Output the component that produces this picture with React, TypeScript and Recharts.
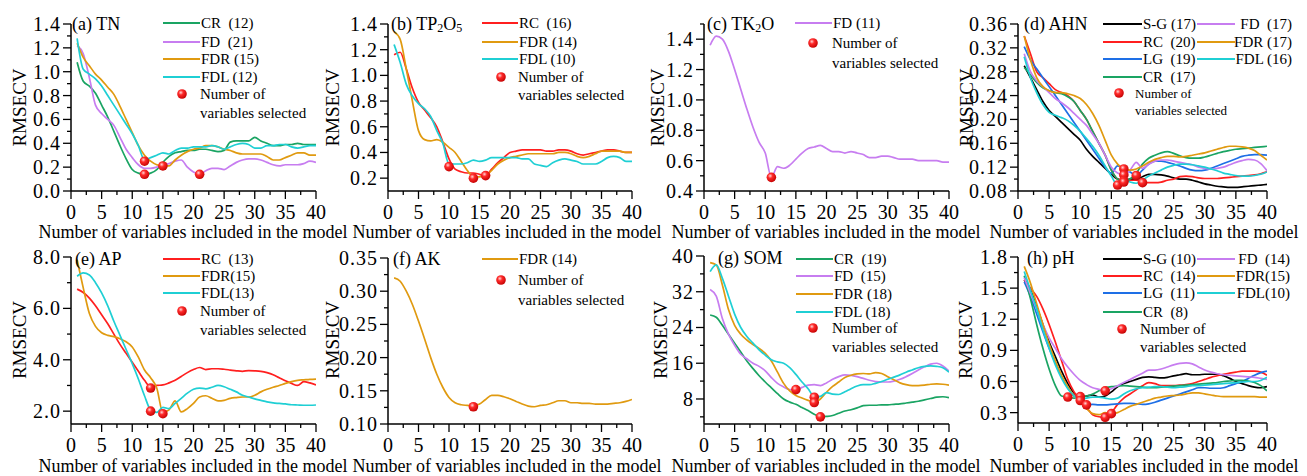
import React from "react";
import { ComposedChart, Line, Scatter, XAxis, YAxis } from "recharts";

const FONT = "Liberation Serif, Times New Roman, DejaVu Serif, serif";

const numVars = [1, 2, 3, 4, 5, 6, 7, 8, 9, 10, 11, 12, 13, 14, 15, 16, 17, 18, 19, 20, 21, 22, 23, 24, 25, 26, 27, 28, 29, 30, 31, 32, 33, 34, 35, 36, 37, 38, 39, 40];
const xTicks = [0, 2.5, 5, 7.5, 10, 12.5, 15, 17.5, 20, 22.5, 25, 27.5, 30, 32.5, 35, 37.5, 40];
const xLabels = [0, 5, 10, 15, 20, 25, 30, 35, 40];

// (a) TN
const tnCR = [1.08, 0.92, 0.88, 0.82, 0.72, 0.62, 0.5, 0.38, 0.27, 0.18, 0.15, 0.14, 0.15, 0.18, 0.24, 0.29, 0.32, 0.33, 0.34, 0.34, 0.35, 0.35, 0.34, 0.33, 0.34, 0.41, 0.42, 0.42, 0.42, 0.45, 0.42, 0.4, 0.38, 0.38, 0.39, 0.39, 0.4, 0.39, 0.39, 0.39];
const tnFD = [1.22, 1.15, 0.95, 0.72, 0.65, 0.6, 0.55, 0.45, 0.35, 0.28, 0.22, 0.19, 0.19, 0.2, 0.22, 0.23, 0.25, 0.26, 0.2, 0.16, 0.14, 0.17, 0.19, 0.19, 0.18, 0.21, 0.24, 0.26, 0.27, 0.27, 0.26, 0.24, 0.22, 0.21, 0.22, 0.22, 0.22, 0.23, 0.25, 0.24];
const tnFDR = [1.24, 1.12, 1.05, 0.98, 0.93, 0.87, 0.81, 0.71, 0.6, 0.49, 0.38, 0.3, 0.25, 0.22, 0.21, 0.21, 0.26, 0.3, 0.33, 0.35, 0.36, 0.38, 0.38, 0.37, 0.35, 0.34, 0.32, 0.31, 0.31, 0.31, 0.31, 0.29, 0.26, 0.26, 0.28, 0.3, 0.32, 0.32, 0.3, 0.3];
const tnFDL = [1.28, 1.02, 0.98, 0.94, 0.88, 0.8, 0.72, 0.64, 0.56, 0.48, 0.38, 0.26, 0.28, 0.3, 0.32, 0.31, 0.34, 0.36, 0.36, 0.37, 0.37, 0.37, 0.38, 0.37, 0.35, 0.37, 0.39, 0.4, 0.39, 0.36, 0.36, 0.38, 0.38, 0.39, 0.39, 0.37, 0.36, 0.37, 0.38, 0.38];
const tnMarkX = [12, 12, 15, 21];
const tnMarkY = [0.14, 0.25, 0.21, 0.14];
const tnLabels = ["CR  (12)", "FD  (21)", "FDR (15)", "FDL (12)"];

// (b) TP2O5
const tpRC = [1.16, 1.18, 1.05, 0.9, 0.79, 0.73, 0.67, 0.6, 0.48, 0.35, 0.27, 0.25, 0.24, 0.24, 0.23, 0.22, 0.27, 0.32, 0.36, 0.4, 0.41, 0.42, 0.42, 0.42, 0.42, 0.41, 0.41, 0.42, 0.42, 0.41, 0.39, 0.38, 0.39, 0.4, 0.41, 0.42, 0.42, 0.41, 0.4, 0.4];
const tpFDR = [1.34, 1.28, 1.05, 0.8, 0.57, 0.5, 0.49, 0.5, 0.48, 0.44, 0.4, 0.33, 0.26, 0.21, 0.21, 0.22, 0.26, 0.31, 0.34, 0.36, 0.37, 0.38, 0.39, 0.39, 0.39, 0.39, 0.39, 0.4, 0.4, 0.39, 0.37, 0.36, 0.37, 0.39, 0.41, 0.41, 0.41, 0.41, 0.4, 0.4];
const tpFDL = [1.24, 1.1, 0.93, 0.84, 0.78, 0.74, 0.68, 0.57, 0.47, 0.31, 0.31, 0.31, 0.32, 0.34, 0.33, 0.34, 0.36, 0.36, 0.36, 0.36, 0.36, 0.35, 0.35, 0.31, 0.3, 0.29, 0.32, 0.34, 0.35, 0.34, 0.33, 0.31, 0.31, 0.31, 0.33, 0.36, 0.37, 0.36, 0.33, 0.33];
const tpMarkX = [10, 14, 16];
const tpMarkY = [0.29, 0.2, 0.22];
const tpLabels = ["RC  (16)", "FDR (14)", "FDL (10)"];

// (c) TK2O
const tkFD = [1.36, 1.42, 1.4, 1.32, 1.2, 1.07, 0.94, 0.82, 0.72, 0.65, 0.49, 0.56, 0.55, 0.57, 0.61, 0.65, 0.68, 0.69, 0.7, 0.68, 0.66, 0.66, 0.65, 0.66, 0.65, 0.64, 0.62, 0.62, 0.63, 0.63, 0.62, 0.61, 0.61, 0.61, 0.6, 0.6, 0.6, 0.6, 0.59, 0.59];
const tkMarkX = [11];
const tkMarkY = [0.49];
const tkLabels = ["FD (11)"];

// (d) AHN
const ahnSG = [0.29, 0.27, 0.25, 0.23, 0.215, 0.205, 0.195, 0.185, 0.175, 0.165, 0.15, 0.138, 0.128, 0.118, 0.108, 0.1, 0.098, 0.1, 0.1, 0.104, 0.108, 0.108, 0.107, 0.105, 0.102, 0.1, 0.1, 0.098, 0.095, 0.092, 0.09, 0.088, 0.087, 0.086, 0.086, 0.087, 0.088, 0.089, 0.09, 0.091];
const ahnRC = [0.34, 0.31, 0.28, 0.27, 0.26, 0.25, 0.245, 0.24, 0.23, 0.215, 0.2, 0.18, 0.16, 0.14, 0.115, 0.1, 0.097, 0.098, 0.098, 0.094, 0.094, 0.094, 0.095, 0.098, 0.1, 0.104, 0.105, 0.104, 0.102, 0.101, 0.101, 0.101, 0.102, 0.103, 0.104, 0.105, 0.106, 0.107, 0.109, 0.112];
const ahnLG = [0.322, 0.3, 0.285, 0.27, 0.255, 0.24, 0.225, 0.21, 0.195, 0.18, 0.165, 0.15, 0.135, 0.12, 0.11, 0.122, 0.118, 0.112, 0.106, 0.115, 0.125, 0.13, 0.13, 0.128, 0.125, 0.122, 0.118, 0.115, 0.114, 0.115, 0.118, 0.122, 0.126, 0.13, 0.134, 0.138, 0.14, 0.141, 0.141, 0.14];
const ahnCR = [0.287, 0.275, 0.262, 0.253, 0.248, 0.245, 0.243, 0.238, 0.23, 0.215, 0.2, 0.18, 0.16, 0.14, 0.115, 0.1, 0.096, 0.1, 0.11, 0.125, 0.135, 0.14, 0.144, 0.146, 0.143, 0.139, 0.136, 0.135, 0.135, 0.137, 0.14, 0.143, 0.146, 0.148, 0.15, 0.151, 0.152, 0.153, 0.154, 0.155];
const ahnFD = [0.31, 0.28, 0.265, 0.255, 0.245, 0.235, 0.228, 0.22, 0.21, 0.2, 0.19, 0.175, 0.16, 0.14, 0.12, 0.11, 0.107, 0.115, 0.128, 0.118, 0.125, 0.13, 0.132, 0.132, 0.13, 0.128, 0.126, 0.124, 0.12, 0.118, 0.117, 0.118, 0.12, 0.124, 0.128, 0.131, 0.133, 0.132, 0.126, 0.114];
const ahnFDR = [0.34, 0.3, 0.27, 0.255, 0.248, 0.245, 0.245, 0.243, 0.24, 0.235, 0.225, 0.21, 0.19, 0.165, 0.14, 0.125, 0.117, 0.115, 0.117, 0.122, 0.128, 0.133, 0.136, 0.138, 0.138, 0.137, 0.138, 0.14, 0.142, 0.144, 0.147, 0.15, 0.153, 0.155, 0.155, 0.154, 0.152, 0.148, 0.14, 0.132];
const ahnFDL = [0.305, 0.27, 0.245, 0.225, 0.212, 0.207, 0.203, 0.198, 0.19, 0.18, 0.168, 0.155, 0.14, 0.122, 0.105, 0.09, 0.1, 0.095, 0.093, 0.098, 0.105, 0.11, 0.115, 0.12, 0.123, 0.125, 0.125, 0.124, 0.122, 0.12, 0.117, 0.114, 0.11, 0.108, 0.106, 0.105, 0.105, 0.106, 0.108, 0.112];
const ahnMarkX = [16, 17, 17, 17, 17, 19, 20];
const ahnMarkY = [0.09, 0.117, 0.107, 0.097, 0.095, 0.106, 0.094];
const ahnLabels1 = ["S-G (17)", "RC  (20)", "LG  (19)", "CR  (17)"];
const ahnLabels2 = ["FD  (17)", "FDR (17)", "FDL (16)"];

// (e) AP
const apRC = [6.75, 6.62, 6.4, 6.1, 5.75, 5.4, 5.0, 4.6, 4.25, 3.9, 3.55, 3.2, 2.95, 3.0, 3.02, 3.1, 3.2, 3.35, 3.5, 3.62, 3.7, 3.62, 3.65, 3.65, 3.63, 3.6, 3.57, 3.55, 3.58, 3.57, 3.55, 3.5, 3.42, 3.3, 3.18, 3.08, 3.0, 3.15, 3.1, 3.02];
const apFDR = [7.9, 6.8, 5.8, 5.3, 5.05, 4.95, 4.9, 4.82, 4.7, 4.5, 4.1, 3.6, 3.3, 2.9, 1.95, 2.05, 2.4, 1.97, 2.1, 2.3, 2.55, 2.6, 2.5, 2.4, 2.42, 2.5, 2.53, 2.55, 2.55, 2.62, 2.75, 2.85, 2.93, 3.0, 3.08, 3.15, 3.2, 3.22, 3.24, 3.25];
const apFDL = [7.25, 7.38, 7.3, 7.0, 6.6, 6.1, 5.5, 4.95, 4.4, 3.85, 3.25, 2.6, 2.05, 1.95, 2.15, 2.1, 2.3, 2.5, 2.7, 2.85, 2.9, 2.87, 2.93, 3.0, 2.95, 2.85, 2.75, 2.62, 2.55, 2.48, 2.42, 2.36, 2.32, 2.3, 2.28, 2.25, 2.24, 2.23, 2.23, 2.24];
const apMarkX = [13, 13, 15];
const apMarkY = [2.9, 2.0, 1.9];
const apLabels = ["RC  (13)", "FDR(15)", "FDL(13)"];

// (f) AK
const akFDR = [0.32, 0.315, 0.3, 0.28, 0.255, 0.228, 0.2, 0.175, 0.155, 0.14, 0.132, 0.129, 0.128, 0.127, 0.13, 0.137, 0.143, 0.143, 0.141, 0.138, 0.134, 0.13, 0.127, 0.126, 0.128, 0.129, 0.132, 0.135, 0.135, 0.132, 0.132, 0.131, 0.131, 0.13, 0.13, 0.13, 0.131, 0.132, 0.134, 0.137];
const akMarkX = [14];
const akMarkY = [0.126];
const akLabels = ["FDR (14)"];

// (g) SOM
const somCR = [26.8, 26.3, 24.5, 22.5, 20.5, 18.5, 16.5, 14.8, 13.2, 11.8, 10.5, 9.2, 8.0, 7.3, 6.8, 6.1, 5.4, 4.6, 4.0, 4.1, 4.3, 4.8, 5.3, 5.6, 6.0, 6.5, 6.6, 6.6, 6.7, 6.7, 6.8, 6.9, 7.1, 7.3, 7.5, 7.8, 8.1, 8.4, 8.5, 8.3];
const somFD = [32.5, 31, 26, 22.5, 20, 18, 17, 16, 15.3, 14.3, 12.8, 11.5, 10.7, 10.1, 10.0, 10.6, 11.1, 11.2, 11.0, 11.6, 12.4, 13.0, 13.4, 13.3, 13.0, 12.6, 12.2, 11.9, 11.8, 11.8, 12.0, 12.4, 13.0, 13.7, 14.5, 15.2, 15.8, 16.0, 15.4, 14.2];
const somFDR = [38.5, 38.0, 33.5, 28, 24.5, 22.5, 21.2, 20.2, 19.3, 18.2, 16.5, 14.0, 11.5, 9.8, 8.8, 8.2, 7.7, 7.3, 8.0, 9.5, 10.8, 11.8, 12.8, 13.3, 13.6, 13.7, 13.6, 13.9, 13.7, 13.0, 12.3, 11.6, 11.2, 11.0, 11.0, 11.1, 11.3, 11.4, 11.3, 11.1];
const somFDL = [36.5, 38.0, 35, 31, 27, 24, 22, 20.5, 19, 17.8, 16.8, 16.3, 16.0, 15.0, 13.5, 11.8, 10.3, 8.5, 8.6, 9.4, 9.1, 9.0, 9.6, 10.3, 10.9, 11.2, 11.2, 11.5, 11.9, 12.4, 12.9, 13.4, 14.0, 14.5, 15.0, 15.3, 15.4, 15.3, 15.0, 14.0];
const somMarkX = [15, 18, 18, 19];
const somMarkY = [10.1, 8.4, 7.2, 4.0];
const somLabels = ["CR  (19)", "FD  (15)", "FDR (18)", "FDL (18)"];

// (h) pH
const phSG = [1.58, 1.48, 1.32, 1.15, 0.98, 0.84, 0.7, 0.58, 0.49, 0.45, 0.46, 0.47, 0.45, 0.46, 0.5, 0.55, 0.58, 0.6, 0.62, 0.64, 0.645, 0.64, 0.635, 0.64, 0.655, 0.665, 0.675, 0.665, 0.665, 0.67, 0.67, 0.67, 0.655, 0.63, 0.6, 0.58, 0.56, 0.545, 0.54, 0.55];
const phRC = [1.58, 1.5, 1.42, 1.3, 1.15, 0.98, 0.8, 0.62, 0.5, 0.42, 0.35, 0.28, 0.26, 0.255, 0.3, 0.38, 0.44, 0.48, 0.52, 0.56, 0.59, 0.58, 0.56, 0.56, 0.56, 0.565, 0.57, 0.58, 0.6, 0.62, 0.64, 0.655, 0.67, 0.68, 0.69, 0.7, 0.7, 0.7, 0.69, 0.66];
const phLG = [1.56, 1.42, 1.25, 1.08, 0.92, 0.78, 0.65, 0.54, 0.46, 0.42, 0.375, 0.38, 0.375, 0.375, 0.38, 0.385, 0.39, 0.39, 0.385, 0.38, 0.385, 0.4, 0.42, 0.44, 0.46, 0.48, 0.5, 0.52, 0.54, 0.54, 0.535, 0.535, 0.54, 0.56, 0.58, 0.6, 0.63, 0.66, 0.685, 0.7];
const phCR = [1.62, 1.4, 1.15, 0.92, 0.72, 0.56, 0.46, 0.45, 0.44, 0.45, 0.46, 0.48, 0.51, 0.54, 0.55, 0.555, 0.56, 0.555, 0.55, 0.545, 0.54, 0.54, 0.545, 0.55, 0.555, 0.56, 0.565, 0.57, 0.575, 0.58, 0.585, 0.59, 0.6, 0.605, 0.61, 0.61, 0.605, 0.59, 0.56, 0.51];
const phFD = [1.6, 1.45, 1.3, 1.15, 1.02, 0.92, 0.82, 0.74, 0.67, 0.61, 0.57, 0.54, 0.525, 0.51, 0.53, 0.56, 0.59, 0.62, 0.65, 0.68, 0.71, 0.71, 0.72, 0.74, 0.76, 0.775, 0.78, 0.77, 0.74, 0.71, 0.69, 0.675, 0.665, 0.66, 0.655, 0.65, 0.645, 0.64, 0.63, 0.62];
const phFDR = [1.71, 1.55, 1.35, 1.15, 0.96, 0.8, 0.66, 0.55, 0.46, 0.4, 0.34, 0.29, 0.28, 0.3, 0.29, 0.3, 0.33, 0.36, 0.38, 0.4, 0.42, 0.44, 0.45, 0.46, 0.465, 0.47, 0.48, 0.49, 0.49, 0.48, 0.47, 0.46, 0.455, 0.455, 0.455, 0.455, 0.455, 0.455, 0.45, 0.45];
const phFDL = [1.66, 1.48, 1.3, 1.1, 0.92, 0.76, 0.63, 0.53, 0.46, 0.42, 0.44, 0.45, 0.45, 0.44, 0.43, 0.44, 0.48, 0.51, 0.53, 0.54, 0.545, 0.55, 0.55, 0.545, 0.54, 0.545, 0.55, 0.56, 0.56, 0.565, 0.57, 0.575, 0.58, 0.585, 0.59, 0.595, 0.6, 0.6, 0.61, 0.64];
const phMarkX = [8, 10, 10, 11, 14, 14, 15];
const phMarkY = [0.45, 0.455, 0.417, 0.375, 0.51, 0.255, 0.29];
const phLabels1 = ["S-G (10)", "RC  (14)", "LG  (11)", "CR  (8)"];
const phLabels2 = ["FD  (14)", "FDR(15)", "FDL(10)"];

const C = {
  SG: "#000000",
  RC: "#ff1f1f",
  LG: "#1e6fe6",
  CR: "#1aa463",
  FD: "#c77df0",
  FDR: "#e09a10",
  FDL: "#1fcfd4",
};

type Series = { key: string; color: string; values: number[] };
type Panel = {
  x0: number; x1: number; yTop: number; yBot: number;
  domain: [number, number]; ticks: number[]; labels: number[]; digits: number;
  series: Series[]; markX: number[]; markY: number[];
};

const panels: Panel[] = [
  {
    x0: 71, x1: 316, yTop: 24, yBot: 191, domain: [0, 1.4],
    ticks: [0, 0.1, 0.2, 0.3, 0.4, 0.5, 0.6, 0.7, 0.8, 0.9, 1.0, 1.1, 1.2, 1.3, 1.4],
    labels: [0, 0.2, 0.4, 0.6, 0.8, 1.0, 1.2, 1.4], digits: 1,
    series: [
      { key: "CR", color: C.CR, values: tnCR },
      { key: "FD", color: C.FD, values: tnFD },
      { key: "FDR", color: C.FDR, values: tnFDR },
      { key: "FDL", color: C.FDL, values: tnFDL },
    ],
    markX: tnMarkX, markY: tnMarkY,
  },
  {
    x0: 388, x1: 632, yTop: 24, yBot: 191, domain: [0.1, 1.4],
    ticks: [0.2, 0.3, 0.4, 0.5, 0.6, 0.7, 0.8, 0.9, 1.0, 1.1, 1.2, 1.3, 1.4],
    labels: [0.2, 0.4, 0.6, 0.8, 1.0, 1.2, 1.4], digits: 1,
    series: [
      { key: "RC", color: C.RC, values: tpRC },
      { key: "FDR", color: C.FDR, values: tpFDR },
      { key: "FDL", color: C.FDL, values: tpFDL },
    ],
    markX: tpMarkX, markY: tpMarkY,
  },
  {
    x0: 704, x1: 949, yTop: 24, yBot: 191, domain: [0.4, 1.5],
    ticks: [0.4, 0.5, 0.6, 0.7, 0.8, 0.9, 1.0, 1.1, 1.2, 1.3, 1.4, 1.5],
    labels: [0.4, 0.6, 0.8, 1.0, 1.2, 1.4], digits: 1,
    series: [{ key: "FD", color: C.FD, values: tkFD }],
    markX: tkMarkX, markY: tkMarkY,
  },
  {
    x0: 1018, x1: 1267, yTop: 24, yBot: 191, domain: [0.08, 0.36],
    ticks: [0.08, 0.1, 0.12, 0.14, 0.16, 0.18, 0.2, 0.22, 0.24, 0.26, 0.28, 0.3, 0.32, 0.34, 0.36],
    labels: [0.08, 0.12, 0.16, 0.2, 0.24, 0.28, 0.32, 0.36], digits: 2,
    series: [
      { key: "SG", color: C.SG, values: ahnSG },
      { key: "RC", color: C.RC, values: ahnRC },
      { key: "LG", color: C.LG, values: ahnLG },
      { key: "CR", color: C.CR, values: ahnCR },
      { key: "FD", color: C.FD, values: ahnFD },
      { key: "FDR", color: C.FDR, values: ahnFDR },
      { key: "FDL", color: C.FDL, values: ahnFDL },
    ],
    markX: ahnMarkX, markY: ahnMarkY,
  },
  {
    x0: 71, x1: 316, yTop: 257, yBot: 424, domain: [1.5, 8],
    ticks: [2, 3, 4, 5, 6, 7, 8], labels: [2, 4, 6, 8], digits: 1,
    series: [
      { key: "RC", color: C.RC, values: apRC },
      { key: "FDR", color: C.FDR, values: apFDR },
      { key: "FDL", color: C.FDL, values: apFDL },
    ],
    markX: apMarkX, markY: apMarkY,
  },
  {
    x0: 388, x1: 632, yTop: 258, yBot: 424, domain: [0.1, 0.35],
    ticks: [0.1, 0.125, 0.15, 0.175, 0.2, 0.225, 0.25, 0.275, 0.3, 0.325, 0.35],
    labels: [0.1, 0.15, 0.2, 0.25, 0.3, 0.35], digits: 2,
    series: [{ key: "FDR", color: C.FDR, values: akFDR }],
    markX: akMarkX, markY: akMarkY,
  },
  {
    x0: 704, x1: 949, yTop: 256, yBot: 424, domain: [2.4, 40],
    ticks: [4, 8, 12, 16, 20, 24, 28, 32, 36, 40], labels: [8, 16, 24, 32, 40], digits: 0,
    series: [
      { key: "CR", color: C.CR, values: somCR },
      { key: "FD", color: C.FD, values: somFD },
      { key: "FDR", color: C.FDR, values: somFDR },
      { key: "FDL", color: C.FDL, values: somFDL },
    ],
    markX: somMarkX, markY: somMarkY,
  },
  {
    x0: 1018, x1: 1267, yTop: 257, yBot: 423, domain: [0.2, 1.8],
    ticks: [0.3, 0.45, 0.6, 0.75, 0.9, 1.05, 1.2, 1.35, 1.5, 1.65, 1.8],
    labels: [0.3, 0.6, 0.9, 1.2, 1.5, 1.8], digits: 1,
    series: [
      { key: "SG", color: C.SG, values: phSG },
      { key: "RC", color: C.RC, values: phRC },
      { key: "LG", color: C.LG, values: phLG },
      { key: "CR", color: C.CR, values: phCR },
      { key: "FD", color: C.FD, values: phFD },
      { key: "FDR", color: C.FDR, values: phFDR },
      { key: "FDL", color: C.FDL, values: phFDL },
    ],
    markX: phMarkX, markY: phMarkY,
  },
];

const YW = 60;
const TM = 12;
const RM = 14;
const XH = 40;
const TICK_FS = 20;

const XTick = (p: any) => {
  const v = p.payload.value;
  const major = xLabels.includes(v);
  return (
    <g>
      <line x1={p.x} x2={p.x} y1={p.y} y2={p.y + (major ? 8 : 4)} stroke="#000" strokeWidth={1.3} />
      {major && (
        <text x={p.x} y={p.y + 28} textAnchor="middle" style={{ fontFamily: FONT, fontSize: TICK_FS }} fill="#000">
          {v}
        </text>
      )}
    </g>
  );
};

const makeYTick = (labels: number[], digits: number) => (p: any) => {
  const v = p.payload.value;
  const major = labels.some((l) => Math.abs(l - v) < 1e-9);
  return (
    <g>
      <line x1={p.x} x2={p.x - (major ? 8 : 4)} y1={p.y} y2={p.y} stroke="#000" strokeWidth={1.3} />
      {major && (
        <text x={p.x - 10} y={p.y} textAnchor="end" dominantBaseline="central" style={{ fontFamily: FONT, fontSize: TICK_FS, letterSpacing: 1 }} fill="#000">
          {v.toFixed(digits)}
        </text>
      )}
    </g>
  );
};

const Ball = (p: any) => <circle cx={p.cx} cy={p.cy} r={4.8} fill="url(#ballGrad)" />;

function PanelChart({ cfg }: { cfg: Panel }) {
  const rows = numVars.map((x, i) => {
    const r: any = { x };
    cfg.series.forEach((s) => (r[s.key] = s.values[i]));
    return r;
  });
  const marks = cfg.markX.map((x, i) => ({ x, y: cfg.markY[i] }));
  const w = YW + (cfg.x1 - cfg.x0) + RM;
  const h = TM + (cfg.yBot - cfg.yTop) + XH;
  return (
    <div style={{ position: "absolute", left: cfg.x0 - YW, top: cfg.yTop - TM }}>
      <ComposedChart width={w} height={h} data={rows} margin={{ top: TM, right: RM, bottom: 0, left: 0 }}>
        <XAxis
          type="number" dataKey="x" domain={[0, 40]} ticks={xTicks} interval={0}
          tickSize={0} tickMargin={0} height={XH} tickLine={false} tick={XTick}
          axisLine={{ stroke: "#000", strokeWidth: 1.5 }} allowDataOverflow
        />
        <YAxis
          type="number" domain={cfg.domain} ticks={cfg.ticks} interval={0}
          tickSize={0} tickMargin={0} width={YW} tickLine={false}
          tick={makeYTick(cfg.labels, cfg.digits)}
          axisLine={{ stroke: "#000", strokeWidth: 1.5 }} allowDataOverflow
        />
        {cfg.series.map((s) => (
          <Line key={s.key} type="monotone" dataKey={s.key} stroke={s.color} strokeWidth={1.7} dot={false} isAnimationActive={false} />
        ))}
        <Scatter data={marks} dataKey="y" shape={Ball} isAnimationActive={false} />
      </ComposedChart>
    </div>
  );
}

type Row = { label: string; color: string; y: number };

function LegendCol({ rows, x1, x2, tx, anchor = "start", fs = 15 }: { rows: Row[]; x1: number; x2: number; tx: number; anchor?: string; fs?: number }) {
  return (
    <g>
      {rows.map((r, i) => (
        <g key={i}>
          <line x1={x1} x2={x2} y1={r.y} y2={r.y} stroke={r.color} strokeWidth={2} />
          <text x={tx} y={r.y} textAnchor={anchor} dominantBaseline="central" style={{ fontFamily: FONT, fontSize: fs, whiteSpace: "pre" }}>
            {r.label}
          </text>
        </g>
      ))}
    </g>
  );
}

function MarkLegend({ cx, cy, tx, y2, fs = 15 }: { cx: number; cy: number; tx: number; y2: number; fs?: number }) {
  const st = { fontFamily: FONT, fontSize: fs };
  return (
    <g>
      <circle cx={cx} cy={cy} r={4.8} fill="url(#ballGrad)" />
      <text x={tx} y={cy} dominantBaseline="central" style={st}>Number of</text>
      <text x={tx} y={y2} dominantBaseline="central" style={st}>variables selected</text>
    </g>
  );
}

const rowsOf = (labels: string[], colors: string[], ys: number[]): Row[] =>
  labels.map((label, i) => ({ label, color: colors[i], y: ys[i] }));

function Overlay() {
  const titleX = [193, 507, 826, 1144];
  const rmseX = [19, 332, 657, 966, 19, 332, 660, 965];
  const sub = { dy: 4, fontSize: 12 };
  const lab = { fontFamily: FONT, fontSize: 18 };
  const pl = { fontFamily: FONT, fontSize: 18 };
  return (
    <svg width={1307} height={476} style={{ position: "absolute", left: 0, top: 0, pointerEvents: "none" }}>
      <defs>
        <radialGradient id="ballGrad" cx="0.38" cy="0.35" r="0.7">
          <stop offset="0" stopColor="#ffd6d6" />
          <stop offset="0.35" stopColor="#ff2a2a" />
          <stop offset="1" stopColor="#c00000" />
        </radialGradient>
      </defs>
      {rmseX.map((x, i) => {
        const y = i < 4 ? 107.5 : 340;
        return (
          <text key={"r" + i} x={x} y={y} transform={`rotate(-90 ${x} ${y})`} textAnchor="middle" dominantBaseline="central" style={{ fontFamily: FONT, fontSize: 19 }}>
            RMSECV
          </text>
        );
      })}
      {[232, 466].map((y) =>
        titleX.map((x) => (
          <text key={`t${x}-${y}`} x={x} y={y} textAnchor="middle" dominantBaseline="central" style={lab}>
            Number of variables included in the model
          </text>
        ))
      )}
      <g dominantBaseline="central" style={pl}>
        <text x={72} y={24}>(a) TN</text>
        <text x={391} y={24}>
          (b) TP<tspan dy={sub.dy} fontSize={sub.fontSize}>2</tspan>
          <tspan dy={-sub.dy}>O</tspan>
          <tspan dy={sub.dy} fontSize={sub.fontSize}>5</tspan>
        </text>
        <text x={707} y={24}>
          (c) TK<tspan dy={sub.dy} fontSize={sub.fontSize}>2</tspan>
          <tspan dy={-sub.dy}>O</tspan>
        </text>
        <text x={1024} y={24}>(d) AHN</text>
        <text x={75} y={259}>(e) AP</text>
        <text x={393} y={259}>(f) AK</text>
        <text x={718} y={258}>(g) SOM</text>
        <text x={1027} y={258}>(h) pH</text>
      </g>

      <LegendCol rows={rowsOf(tnLabels, [C.CR, C.FD, C.FDR, C.FDL], [23, 42, 59, 77])} x1={163} x2={200} tx={201} />
      <MarkLegend cx={182} cy={94} tx={200} y2={113} />

      <LegendCol rows={rowsOf(tpLabels, [C.RC, C.FDR, C.FDL], [23, 42, 59])} x1={482} x2={518} tx={519} />
      <MarkLegend cx={501} cy={77} tx={518} y2={95} />

      <LegendCol rows={rowsOf(tkLabels, [C.FD], [23])} x1={795} x2={832} tx={833} />
      <MarkLegend cx={813} cy={43} tx={832} y2={63} />

      <LegendCol rows={rowsOf(ahnLabels1, [C.SG, C.RC, C.LG, C.CR], [24, 42, 59, 77])} x1={1103} x2={1142} tx={1143} />
      <LegendCol rows={rowsOf(ahnLabels2, [C.FD, C.FDR, C.FDL], [24, 42, 59])} x1={1197} x2={1235} tx={1292} anchor="end" />
      <MarkLegend cx={1119} cy={93} tx={1135} y2={110} fs={13} />

      <LegendCol rows={rowsOf(apLabels, [C.RC, C.FDR, C.FDL], [259, 276, 293])} x1={163} x2={200} tx={201} />
      <MarkLegend cx={182} cy={311} tx={200} y2={330} />

      <LegendCol rows={rowsOf(akLabels, [C.FDR], [259])} x1={482} x2={518} tx={519} />
      <MarkLegend cx={501} cy={280} tx={518} y2={300} />

      <LegendCol rows={rowsOf(somLabels, [C.CR, C.FD, C.FDR, C.FDL], [259, 276, 294, 312])} x1={796} x2={833} tx={834} />
      <MarkLegend cx={813} cy={328} tx={832} y2={347} />

      <LegendCol rows={rowsOf(phLabels1, [C.SG, C.RC, C.LG, C.CR], [259, 276, 293, 312])} x1={1103} x2={1142} tx={1143} />
      <LegendCol rows={rowsOf(phLabels2, [C.FD, C.FDR, C.FDL], [259, 276, 293])} x1={1197} x2={1235} tx={1290} anchor="end" />
      <MarkLegend cx={1122} cy={329} tx={1140} y2={347} />
    </svg>
  );
}

export default function App() {
  return (
    <div style={{ position: "absolute", left: 0, top: 0, width: 1307, height: 476, background: "#fff", overflow: "hidden" }}>
      {panels.map((p, i) => (
        <PanelChart key={i} cfg={p} />
      ))}
      <Overlay />
    </div>
  );
}
